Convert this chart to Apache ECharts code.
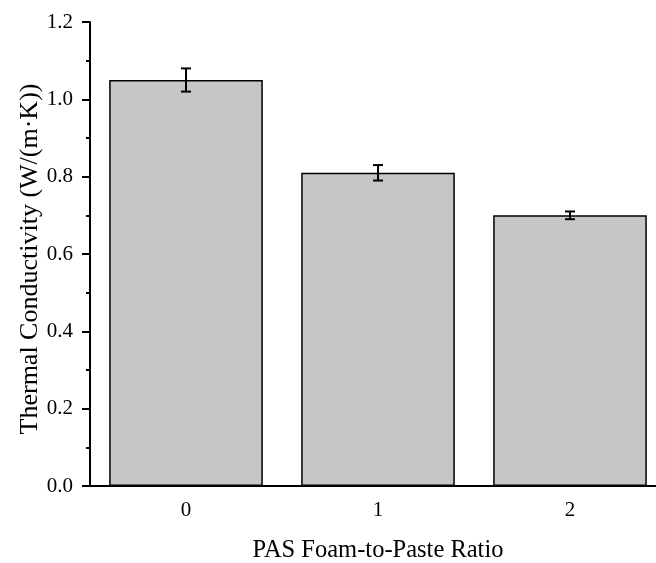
<!DOCTYPE html>
<html>
<head>
<meta charset="utf-8">
<script src="https://cdn.jsdelivr.net/npm/echarts@6/dist/echarts.min.js"></script>
<style>
html,body{margin:0;padding:0;background:#fff;}
#chart{width:656px;height:563px;}
</style>
</head>
<body>
<div id="chart"></div>
<script>
// data
var categories = ['0', '1', '2'];
var conductivity = [1.05, 0.81, 0.70];
var errors = [0.03, 0.02, 0.01];
var yTicks = [0, 0.2, 0.4, 0.6, 0.8, 1.0, 1.2];

var errData = conductivity.map(function (v, i) {
	return [i, v - errors[i], v + errors[i]];
});

var font = 'Liberation Serif, Times New Roman, serif';

var myChart = echarts.init(document.getElementById('chart'));
var option = {
	animation: false,
	grid: {left: 90, top: 22, width: 576, bottom: 77, outerBoundsMode: 'none', containLabel: false},
	xAxis: [
		{
			type: 'category',
			data: categories,
			boundaryGap: true,
			axisLine: {lineStyle: {color: '#000', width: 2}},
			axisTick: {alignWithLabel: true, length: 7, lineStyle: {color: '#000', width: 2}},
			axisLabel: {color: '#000', fontFamily: font, fontSize: 21, margin: 14},
			name: 'PAS Foam-to-Paste Ratio',
			nameLocation: 'middle',
			nameGap: 52,
			nameMoveOverlap: false,
			nameTextStyle: {color: '#000', fontFamily: font, fontSize: 24.5}
		},
		{
			// minor ticks between categories
			type: 'category',
			data: categories,
			position: 'bottom',
			boundaryGap: true,
			axisLine: {show: false},
			axisTick: {alignWithLabel: false, length: 3, lineStyle: {color: '#000', width: 2}},
			axisLabel: {show: false}
		}
	],
	yAxis: {
		type: 'value',
		min: 0,
		max: 1.2,
		interval: 0.2,
		splitLine: {show: false},
		axisLine: {show: true, lineStyle: {color: '#000', width: 2}},
		axisTick: {show: true, length: 8, lineStyle: {color: '#000', width: 2}},
		minorTick: {show: true, splitNumber: 2, length: 4, lineStyle: {color: '#000', width: 2}},
		axisLabel: {
			color: '#000', fontFamily: font, fontSize: 21, margin: 17,
			formatter: function (v) { return v.toFixed(1); }
		},
		name: 'Thermal Conductivity (W/(m\u00b7K))',
		nameLocation: 'middle',
		nameGap: 47,
		nameMoveOverlap: false,
		nameTextStyle: {color: '#000', fontFamily: font, fontSize: 26, padding: [0, 10, 0, 0]}
	},
	series: [
		{
			type: 'bar',
			data: conductivity,
			barWidth: '80%',
			itemStyle: {color: '#c6c6c6', borderColor: '#000', borderWidth: 1.5}
		},
		{
			type: 'custom',
			data: errData,
			z: 10,
			renderItem: function (params, api) {
				var x = api.value(0);
				var lo = api.coord([x, api.value(1)]);
				var hi = api.coord([x, api.value(2)]);
				var w = 5;
				var st = {stroke: '#000', lineWidth: 2};
				return {
					type: 'group',
					children: [
						{type: 'line', shape: {x1: lo[0], y1: lo[1], x2: hi[0], y2: hi[1]}, style: st},
						{type: 'line', shape: {x1: lo[0] - w, y1: lo[1], x2: lo[0] + w, y2: lo[1]}, style: st},
						{type: 'line', shape: {x1: hi[0] - w, y1: hi[1], x2: hi[0] + w, y2: hi[1]}, style: st}
					]
				};
			}
		}
	]
};
myChart.setOption(option);
</script>
</body>
</html>
